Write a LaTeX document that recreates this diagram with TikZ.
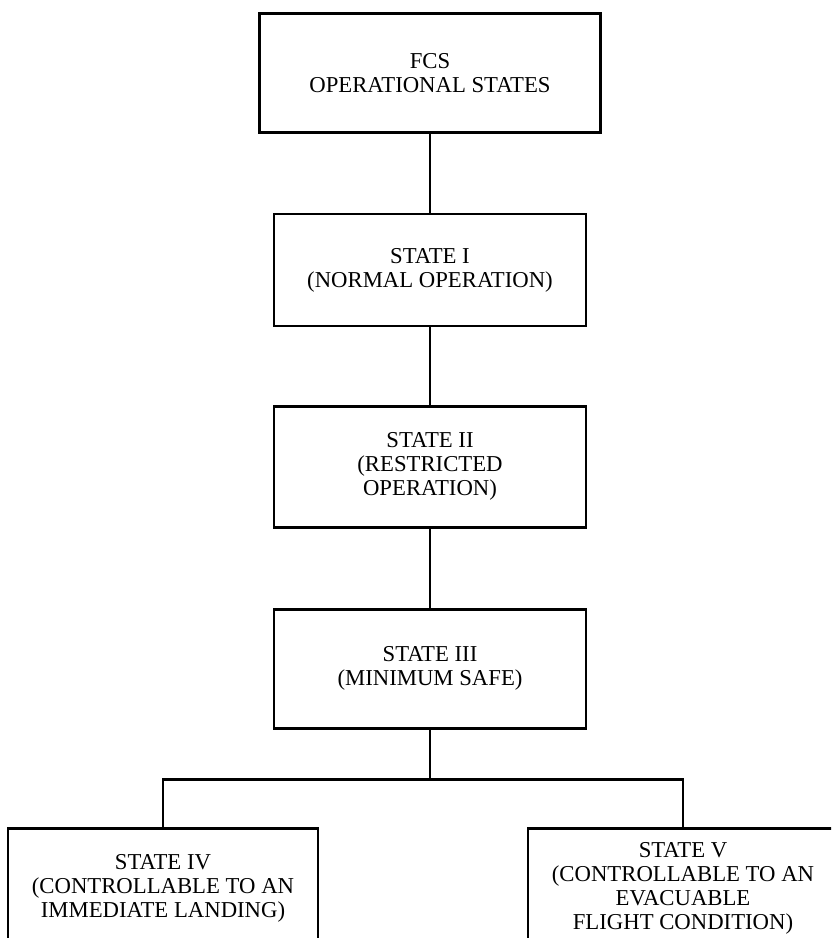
\documentclass[tikz,border=0pt]{standalone}
\usepackage{fontspec}
\setmainfont{Liberation Serif}
\usetikzlibrary{calc}
\tikzstyle{statebox} = [rectangle, draw, line width=2.5pt, text centered, align=center, minimum width=9.36cm, font=\fontsize{19.4}{20.5}\selectfont]
\tikzstyle{connector} = [line width=2.5pt]

\begin{document}
\begin{tikzpicture}[node distance=5.9cm]
            \clip (0,0) rectangle (24.93,-28.14);
            \node (fcs) [statebox, minimum width=10.23cm, minimum height=3.57cm] at (12.9,-2.2) {FCS\\OPERATIONAL STATES};
            \node (s1) [statebox, minimum height=3.36cm, below of = fcs] {STATE I\\(NORMAL OPERATION)};
            \node (s2) [statebox, minimum height=3.63cm, below of = s1] {STATE II\\(RESTRICTED\\OPERATION)};
            \node (s3) [statebox, minimum height=3.57cm, below of = s2, yshift = -0.16cm] {STATE III\\(MINIMUM SAFE)};
            \node (s4) [statebox, minimum width=9.3cm, minimum height=3.6cm, below of = s3, xshift = -8.01cm, yshift = -0.69cm] {STATE IV\\(CONTROLLABLE TO AN\\IMMEDIATE LANDING)};
            \node (s5) [statebox, minimum width=9.3cm, minimum height=3.6cm, below of = s3, xshift = 7.59cm, yshift = -0.69cm] {STATE V\\(CONTROLLABLE TO AN\\EVACUABLE\\FLIGHT CONDITION)};
            \coordinate (split) at ($(s3.south)+(0,-1.5)$);
            \draw [connector] (fcs) -- (s1);
            \draw [connector] (s1) -- (s2);
            \draw [connector] (s2) -- (s3);
            \draw [connector] (s3) -- (split);
            \draw [connector] (split) -| (s4);
            \draw [connector] (split) -| (s5);
        \end{tikzpicture}
\end{document}
